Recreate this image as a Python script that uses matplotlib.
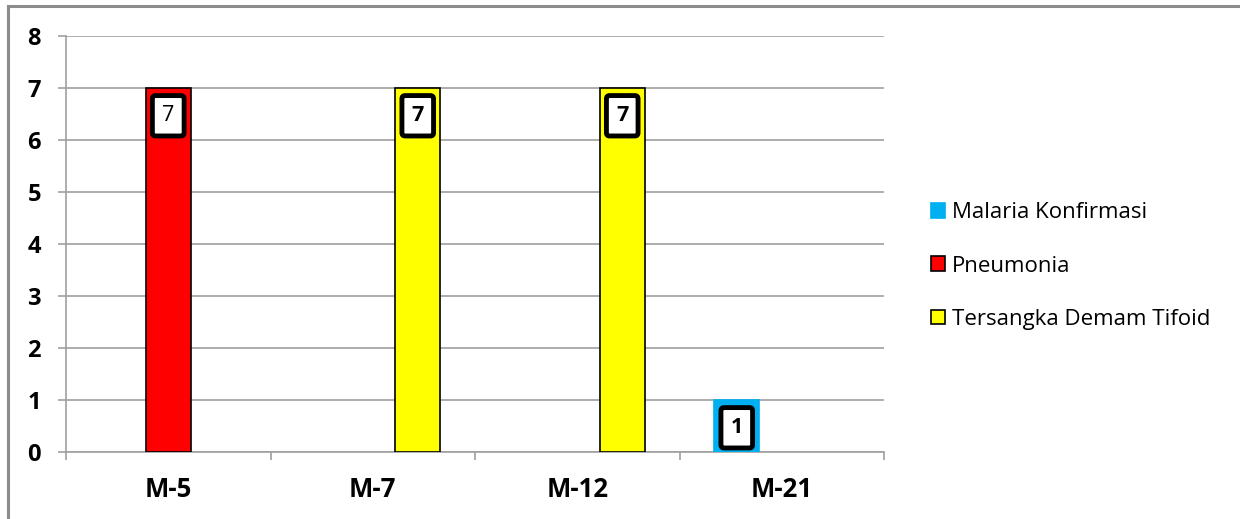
import matplotlib
matplotlib.use("Agg")
import matplotlib.pyplot as plt
import numpy as np
from matplotlib.lines import Line2D

plt.rcParams['font.family'] = ['Open Sans', 'DejaVu Sans']

categories = ['M-5', 'M-7', 'M-12', 'M-21']
series_names = ['Malaria Konfirmasi', 'Pneumonia', 'Tersangka Demam Tifoid']
malaria = [0, 0, 0, 1]
pneumonia = [7, 0, 0, 0]
tifoid = [0, 7, 7, 0]
colors = ['#00b0f0', '#ff0000', '#ffff00']
edges = ['#00b0f0', 'black', 'black']

fig = plt.figure(figsize=(12.4, 5.19), dpi=100)
ax = fig.add_axes([66 / 1240, 1 - 452 / 519, (884 - 66) / 1240, (452 - 36) / 519])

x = np.arange(len(categories))
w = 0.22
handles = []
for i, (vals, name) in enumerate(zip([malaria, pneumonia, tifoid], series_names)):
    pos = x + (i - 1) * w
    shown = np.where(np.array(vals) > 0, vals, np.nan)
    bars = ax.bar(pos, shown, w, color=colors[i], edgecolor=edges[i], linewidth=1.2,
                  label=name, zorder=3)
    handles.append(bars)
    for xp, v in zip(pos, vals):
        if v > 0:
            ax.annotate(str(v), (xp, v), xytext=(0, -20), textcoords='offset points',
                        ha='center', va='center', fontsize=15.5,
                        fontweight='normal' if i == 1 else 'bold', zorder=5,
                        bbox=dict(boxstyle='round,pad=0.45,rounding_size=0.15',
                                  fc='white', ec='black', lw=3.5))

ax.set_xlim(-0.5, 3.5)
ax.set_ylim(0, 8)
ax.set_yticks(range(0, 9))
ax.yaxis.grid(True, color='#a0a0a0', linewidth=1.2, zorder=0)
ax.set_axisbelow(True)
ax.set_xticks(x)
ax.set_xticklabels(categories, fontsize=18.5, fontweight='bold')
ax.set_xticks(np.arange(-0.5, 4, 1), minor=True)
ax.tick_params(axis='x', which='major', length=0, pad=17)
ax.tick_params(axis='x', which='minor', length=6, color='#a0a0a0', width=1.2)
ax.tick_params(axis='y', length=6, color='#a0a0a0', width=1.2, labelsize=17, pad=12)
for lab in ax.get_yticklabels():
    lab.set_fontweight('bold')
for s in ['top', 'right']:
    ax.spines[s].set_visible(False)
for s in ['left', 'bottom']:
    ax.spines[s].set_color('#a0a0a0')
    ax.spines[s].set_linewidth(1.2)

leg = fig.legend(handles=handles, loc='center left', bbox_to_anchor=(911 / 1240, 1 - 266 / 519),
                 frameon=False, fontsize=16, handlelength=0.65, handleheight=0.65,
                 handletextpad=0.3, labelspacing=1.45)

# outer chart border (only top and left edges fall inside the image)
fig.add_artist(Line2D([8 / 1240, 1.0], [1 - 6 / 519, 1 - 6 / 519], transform=fig.transFigure,
                      color='#8c8c8c', lw=2.2))
fig.add_artist(Line2D([8 / 1240, 8 / 1240], [0.0, 1 - 6 / 519], transform=fig.transFigure,
                      color='#8c8c8c', lw=2.2))

fig.savefig('out.png', dpi=100)
